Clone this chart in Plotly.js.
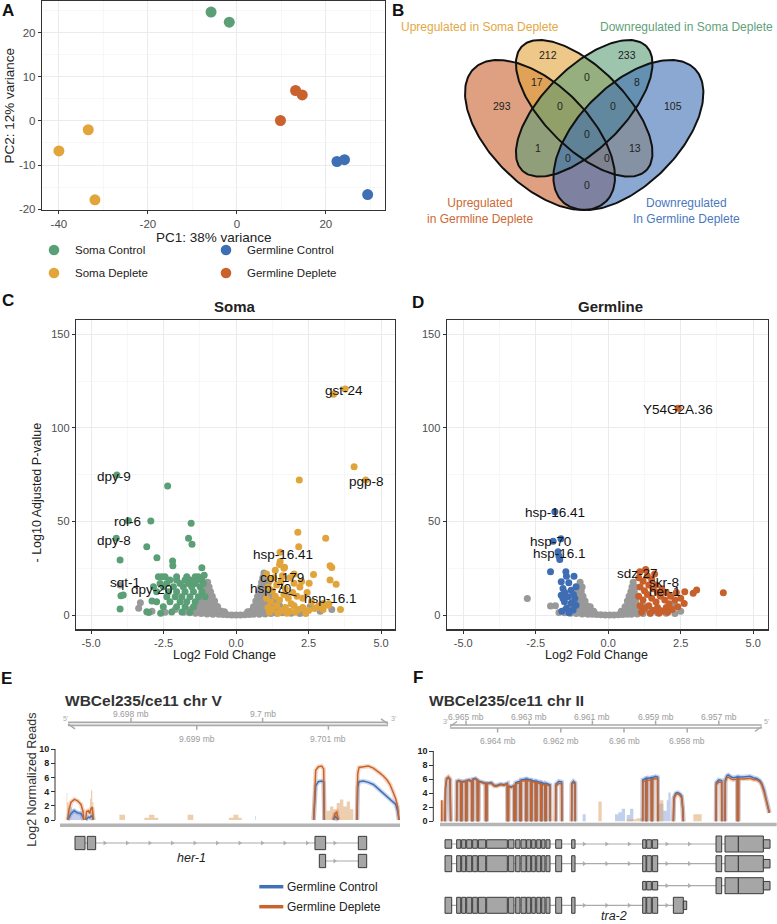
<!DOCTYPE html>
<html><head><meta charset="utf-8">
<script src="https://cdn.plot.ly/plotly-3.0.1.min.js"></script>
<style>html,body{margin:0;padding:0;background:#fff}#chart{width:777px;height:924px}</style>
</head><body><div id="chart"></div>
<script>
const W=777,H=924;
const FONT='Liberation Sans, Arial, Helvetica, sans-serif';
const PX=p=>p/W, PY=p=>1-p/H;

// ===== Panel A: PCA =====
const pcaGroups=['Soma Control','Germline Control','Soma Deplete','Germline Deplete'];
const pcaColors=['#5b9f77','#3e6fb5','#e2a53a','#c9622c'];
const somaControlPC1=[-5.8,-1.7], somaControlPC2=[24.7,22.4];
const somaDepletePC1=[-33.4,-40.0,-31.9], somaDepletePC2=[-2.0,-6.8,-17.9];
const germControlPC1=[22.5,24.2,29.4], germControlPC2=[-9.2,-8.8,-16.7];
const germDepletePC1=[13.2,14.7,9.8], germDepletePC2=[6.9,5.9,0.1];

// ===== Panel B: Venn =====
const vennSets=['Upregulated<br>in Germline Deplete','Upregulated in Soma Deplete','Downregulated in Soma Deplete','Downregulated<br>In Germline Deplete'];
const vennSetColors=['#c8602b','#e1a43a','#5c9e76','#3d6eb5'];
const vennCounts=[293,212,233,105,17,0,8,0,0,0,1,13,0,0,0];

// ===== Panel C: Soma volcano =====
const somaGreyLFC=[-1.8,-1.6,-1.4,-1.2,-1.0,-0.8,-0.6,-0.45,-0.3,-0.15,0.0,0.15,0.3,0.45,0.6,0.8,1.0,1.2,1.4,1.6,1.9,2.2,
 -1.6,-1.4,-1.2,-1.0,-0.82,-0.66,-0.52,-0.4,0.4,0.52,0.66,0.82,1.0,1.2,1.4,1.7,2.1,
 -1.4,-1.22,-1.06,-0.92,-0.78,-0.64,0.6,0.74,0.88,1.02,1.16,1.3,1.5,
 -1.28,-1.13,-0.99,-0.86,-0.74,0.68,0.82,0.96,1.1,1.24,1.38,
 -1.2,-1.06,-0.93,-0.82,0.74,0.88,1.01,1.15,1.29,
 -1.12,-0.99,-0.88,0.8,0.93,1.06,1.2,
 -1.04,-0.93,0.85,0.97,1.1,
 -0.98,0.88,1.0,1.12,
 0.92,1.04,
 0.96,
 -3.3,-3.36,-4.0,-2.9,-2.45,-2.1,2.14,2.55,2.9,3.3,2.4];
const somaGreyP=[1.5,1.2,1.0,0.8,0.6,0.5,0.4,0.3,0.2,0.1,0.0,0.1,0.2,0.3,0.4,0.5,0.6,0.8,1.0,1.2,1.0,0.8,
 2.8,2.6,2.5,2.5,2.5,2.4,2.2,1.8,1.8,2.2,2.4,2.5,2.5,2.6,2.7,2.8,2.5,
 5,5,5,5,5,4.6,4.4,5,5,5,5,5,5,
 7.5,7.5,7.5,7.5,7.5,7.5,7.5,7.5,7.5,7.5,7.5,
 10,10,10,10,10,10,10,10,10,
 12.5,12.5,12.5,12.5,12.5,12.5,12.5,
 15,15,15,15,15,
 17.5,17.5,17.5,17.5,
 20,20,
 22.5,
 6.6,3.6,16.0,2.0,1.5,3.0,2.7,4.4,2.0,3.0,1.0];
const somaDownLFC=[-4.11,-2.36,-3.71,-2.94,-1.55,-1.64,-1.52,-4.13,-3.08,-4.0,-2.73,-2.19,-2.18,-1.18,-1.10,-3.89,-3.97,-4.0,-3.01,-3.08,-2.6,-2.9,
 -2.68,-2.56,-2.45,-2.05,-1.70,-1.41,-1.30,
 -2.28,-2.05,-1.76,-1.59,-1.36,-1.18,
 -2.62,-2.39,-1.93,-1.64,-1.41,-1.13,
 -2.85,-2.51,-2.16,-1.82,-1.53,-1.24,
 -2.74,-2.33,-2.05,-1.76,-1.47,-1.18,
 -2.39,-2.10,-1.87,-1.59,-1.30,-1.07,
 -2.74,-2.28,-1.93,-1.70,-1.41,
 -2.51,-2.05,-1.76,-1.47,
 -2.22,-1.87,-1.59];
const somaDownP=[74.8,68.9,50.4,50.2,49,41,37.8,41,36.5,29.4,30.6,28.9,26.4,25.3,21.3,10.7,10.3,3.2,1.4,1.8,1.0,7.5,
 20.5,20.5,20.5,20.5,20.5,20.5,20.5,
 18.7,18.7,18.7,18.7,18.7,18.7,
 16.9,16.9,16.9,16.9,16.9,16.9,
 15.1,15.1,15.1,15.1,15.1,15.1,
 12.4,12.4,12.4,12.4,12.4,12.4,
 9.8,9.8,9.8,9.8,9.8,9.8,
 7.1,7.1,7.1,7.1,7.1,
 4.4,4.4,4.4,4.4,
 1.7,1.7,1.7];
const somaUpLFC=[3.36,3.76,4.07,4.47,2.18,2.13,3.09,2.16,1.52,1.52,1.67,3.24,3.3,2.67,3.24,3.45,2.26,2.52,3.01,3.18,2.93,2.8,3.6,
 1.05,1.2,1.35,1.5,1.65,1.1,1.25,1.4,1.55,1.7,1.85,2.0,2.2,1.05,1.2,1.35,1.5,1.65,1.8,1.95,2.1,2.3,2.45,1.1,1.25,1.4,1.55,1.7,1.85,2.0,2.15,2.3,2.5,2.7,2.85,3.0,1.15,1.45,1.75,2.05,2.4,1.3,1.6,2.0,1.9,2.6,3.2];
const somaUpP=[118,120.7,79.2,72.1,72.1,44.3,41,36.5,33.6,28.6,25.6,26.3,25.4,21.7,18.7,16.4,17.9,17.0,6.2,5.3,4.5,4.1,3.0,
 22,19,24,27,25,15,13,16,18,14,20,17,15,9,7,10,8,11,9,12,10,9,12,4,3,5,2.5,4,2,5,3,4,2.5,3.5,5,3,1.5,1,1,1.5,1,20,21,22,6,7,6];

// ===== Panel D: Germline volcano =====
const germGreyLFC=[-1.7,-1.5,-1.3,-1.1,-0.9,-0.7,-0.55,-0.4,-0.25,-0.1,0.05,0.2,0.35,0.5,0.65,0.8,1.0,1.2,1.45,1.7,2.0,2.3,
 -1.5,-1.3,-1.12,-0.95,-0.8,-0.65,-0.5,0.45,0.6,0.75,0.9,1.05,1.25,1.5,1.8,
 -1.3,-1.15,-1.0,-0.86,-0.72,-0.62,0.58,0.72,0.86,1.0,1.2,
 -1.2,-1.06,-0.93,-0.8,0.66,0.8,0.94,
 -1.12,-0.99,-0.87,0.72,0.86,0.98,
 -1.05,-0.93,0.78,0.9,
 -1.0,-0.9,0.82,0.94,
 -0.97,0.86,
 -2.79,-1.99,-1.82,2.3,2.5];
const germGreyP=[1.4,1.2,1.0,0.8,0.6,0.5,0.4,0.3,0.2,0.1,0.0,0.1,0.2,0.3,0.4,0.5,0.6,0.8,1.0,1.2,1.0,0.8,
 2.6,2.5,2.5,2.5,2.4,2.2,2.0,2.0,2.2,2.4,2.5,2.5,2.6,2.7,2.5,
 5,5,5,5,4.8,4.5,4.5,4.8,5,5,5,
 7.5,7.5,7.5,7.5,7.5,7.5,7.5,
 10,10,10,10,10,10,
 12.5,12.5,12.5,12.5,
 15,15,15,15,
 17.5,17.5,
 8.9,4.8,5.0,5.0,2.0];
const germDownLFC=[-1.84,-1.63,-1.90,-1.73,-1.70,-1.67,-1.99,-1.46,-1.44,-1.18,-1.62,-1.36,-1.56,-1.28,-1.11,-1.62,-1.39,-1.15,-1.51,-1.28,-1.11,-1.44,-1.21,-1.56,-1.5,-1.35,-1.6,-1.2];
const germDownP=[55.2,40.8,39.4,33.8,31.5,29.7,23.1,23.1,20.8,20.8,17.8,17.2,14.2,13.3,15.1,10.6,9.8,8.9,7.1,6.3,5.3,3.6,2.7,8.9,12,1.2,2,11];
const germUpLFC=[2.41,1.29,1.09,3.97,3.05,2.93,2.64,2.62,
 1.05,1.2,1.35,1.5,1.65,1.1,1.25,1.4,1.55,1.7,1.85,2.0,2.15,1.05,1.2,1.35,1.5,1.65,1.8,1.95,2.1,2.3,1.1,1.25,1.4,1.55,1.7,1.85,2.0,2.2,2.4,1.15,1.45,1.75,2.05,1.6,1.3,2.5,2.35];
const germUpP=[110.4,24.4,23.1,11.9,13.4,11.6,12.5,6.2,
 20,18,21,19,16,15,13,16,14,12,14,12,10,10,8,11,9,7,10,8,6,8,5,3.5,5,2.5,4,2,4,3,4.5,1.5,1,1,1.5,22,24,9,12];

const somaLabels=['gst-24','pgp-8','dpy-9','rol-6','dpy-8','hsp-16.41','col-179','hsp-70','hsp-16.1','sqt-1','dpy-20'];
const germLabels=['Y54G2A.36','hsp-16.41','hsp-70','hsp-16.1','sdz-27','skr-8','her-1'];
const volcTicks=[-5,-2.5,0,2.5,5], volcTickText=['-5.0','-2.5','0.0','2.5','5.0'];

// ===== Panel E: her-1 coverage (kb on chr V) =====
const eCovPos=[9697.038,9697.058,9697.088,9697.139,9697.189,9697.240,9697.271,9697.281,null,
 9697.311,9697.326,9697.352,9697.372,9697.387,9697.412,9697.428,null,
 9700.776,9700.791,9700.807,9700.847,9700.898,9700.928,9700.938,null,
 9701.075,9701.100,9701.126,9701.151,null,
 9701.435,9701.445,9701.465,9701.531,9701.607,9701.683,9701.734,9701.784,9701.835,9701.886,9701.936,9701.987,9702.023,9702.053,9702.073];
const eCovDeplete=[0,1.5,2.5,2.9,2.7,2.2,1.2,0,null,
 0,1.2,1.3,0.9,1.5,1.8,0,null,
 0,5.0,7.0,7.5,7.6,7.2,0,null,
 0,0.9,1.1,0,null,
 0,6.5,7.4,7.5,7.6,7.3,7.0,6.6,6.2,5.7,5.0,3.9,3.0,1.8,0];
const eCovControl=[0,0.3,0.9,1.3,1.0,0.9,0.4,0,null,
 0,0.2,0.4,0.3,0.5,0.6,0,null,
 0,3.0,4.8,5.4,5.5,5.3,0,null,
 0,0.5,0.3,0,null,
 0,4.6,5.4,5.5,5.3,5.0,4.6,4.2,3.8,3.3,3.0,2.6,2.2,1.2,0];
const eBandPos=[9697.000,9697.022,9697.032,9697.050,9697.377,9697.392,9697.412,9697.428,9697.823,9697.909,9698.203,9698.274,9698.355,9698.415,9698.861,9698.947,9699.489,9699.555,9699.631,9699.682,9700.974,9701.025,9701.075,9701.126,9701.176,9701.227,9701.278,9701.328,9701.379];
const eBandDeplete=[0,3.8,2.5,0,3.0,4.2,2.5,0,0.75,0,0.3,0.75,0.3,0,0.75,0,0.3,0.75,0.3,0,1.3,1.9,1.5,2.4,2.9,1.9,2.6,1.5,0];
const eBandCtrlPos=[9697.040,9697.050,9697.100,9697.150,9697.250,9699.885,9699.895,9701.075,9701.126,9701.151];
const eBandControl=[0,1.8,1.5,1.2,0,0.6,0,0.9,1.3,0];
const her1Tx1Start=[9697.149,9697.336,9700.796,9701.455], her1Tx1End=[9697.301,9697.463,9700.958,9701.582];
const her1Tx2Start=[9700.862,9701.455], her1Tx2End=[9700.958,9701.582];
const eAxisTicks=[9698,9699,9700,9701], eAxisLabels=['9.698 mb','9.699 mb','9.7 mb','9.701 mb'];

// ===== Panel F: tra-2 coverage (kb on chr II) =====
const fCovPos=[6965.770,6965.765,6965.760,null,
 6965.664,6965.650,6965.612,6965.559,6965.506,6965.485,null,
 6965.295,6965.285,6965.230,6965.168,6965.160,null,
 6965.137,6965.130,6965.070,6965.010,6965.005,null,
 6964.979,6964.972,6964.900,6964.820,6964.815,null,
 6964.789,6964.782,6964.700,6964.641,6964.636,null,
 6964.609,6964.602,6964.500,6964.377,6964.372,null,
 6964.346,6964.340,6964.200,6964.100,6964.029,6963.900,6963.800,6963.692,6963.687,null,
 6963.660,6963.655,6963.560,6963.481,6963.476,null,
 6963.428,6963.423,6963.291,6963.286,null,
 6963.259,6963.254,6963.101,6963.096,null,
 6963.080,6963.075,6962.953,6962.948,null,
 6962.922,6962.917,6962.806,6962.801,null,
 6962.763,6962.758,6962.637,6962.632,null,
 6962.605,6962.600,6962.500,6962.495,null,
 6962.468,6962.463,6962.342,6962.337,null,
 6962.162,6962.155,6962.060,6961.972,6961.967,null,
 6961.656,6961.650,6961.600,6961.550,6961.545,null,
 6959.409,6959.404,6959.303,6959.298,null,
 6959.282,6959.277,6959.135,6959.130,null,
 6959.103,6959.098,6959.000,6958.934,6958.929,null,
 6958.438,6958.420,6958.360,6958.300,6958.228,6958.175,6958.143,6958.122,null,
 6957.088,6957.080,6957.000,6956.909,6956.904,null,
 6956.803,6956.795,6956.740,6956.698,6956.600,6956.540,6956.413,6956.410,null,
 6956.381,6956.376,6956.223,6956.100,6956.012,6955.900,6955.801,6955.700,6955.643,6955.570,6955.500,6955.440,6955.400];
const fCovDeplete=[0,3.0,0,null,
 0,4.8,6.1,6.3,6.0,0,null,
 0,5.6,5.7,5.6,0,null,
 0,5.5,5.6,5.6,0,null,
 0,5.7,5.8,5.6,0,null,
 0,5.9,6.0,5.8,0,null,
 0,5.6,5.5,5.3,0,null,
 0,5.3,5.4,5.0,5.0,5.2,5.1,5.3,0,null,
 0,4.9,4.8,5.0,0,null,
 0,5.3,5.5,0,null,
 0,5.7,5.8,0,null,
 0,5.8,5.7,0,null,
 0,5.6,5.5,0,null,
 0,5.5,5.3,0,null,
 0,5.3,5.1,0,null,
 0,5.2,5.0,0,null,
 0,5.0,5.4,5.3,0,null,
 0,5.2,5.5,5.3,0,null,
 0,5.6,5.8,0,null,
 0,5.8,5.9,0,null,
 0,5.9,6.1,6.0,0,null,
 0,3.2,3.8,3.9,3.7,3.3,1.8,0,null,
 0,5.2,5.6,5.5,0,null,
 0,5.6,6.2,6.3,6.0,5.9,6.0,0,null,
 0,6.0,6.0,6.1,6.1,5.9,5.9,5.6,5.2,4.2,3.0,1.8,1.2];
const fCovControl=[0,0,0,null,
 0,4.6,6.0,6.2,5.9,0,null,
 0,5.7,5.8,5.7,0,null,
 0,5.6,5.7,5.7,0,null,
 0,5.8,5.9,5.7,0,null,
 0,6.0,6.1,5.9,0,null,
 0,5.7,5.6,5.4,0,null,
 0,5.4,5.5,5.1,5.1,5.3,5.2,5.4,0,null,
 0,5.0,4.9,5.1,0,null,
 0,5.5,5.7,0,null,
 0,5.9,6.0,0,null,
 0,6.0,5.9,0,null,
 0,5.8,5.7,0,null,
 0,5.7,5.5,0,null,
 0,5.5,5.3,0,null,
 0,5.4,5.2,0,null,
 0,5.3,5.7,5.6,0,null,
 0,5.4,5.7,5.5,0,null,
 0,5.9,6.1,0,null,
 0,6.1,6.2,0,null,
 0,6.2,6.4,6.3,0,null,
 0,3.4,4.0,4.1,3.9,3.6,2.0,0,null,
 0,5.5,5.9,5.8,0,null,
 0,5.9,6.5,6.6,6.3,6.2,6.3,0,null,
 0,6.3,6.3,6.4,6.4,6.2,6.1,5.8,5.4,4.5,3.3,2.0,1.2];
const fBandPos=[6965.780,6965.775,6965.760,6960.812,6960.706,6959.915,6959.810,6959.704,6959.599,6959.440,6958.934,6958.860,6958.755,6957.805,6957.700,6957.542];
const fBandDeplete=[0,3.0,0,2.8,0,0.3,0.3,0.3,0.45,0,2.5,3.0,0,1.0,1.0,0];
const fBandCtrlPos=[6961.320,6961.308,6961.213,6960.284,6960.179,6960.073,6959.968,6959.915,6959.810,6959.704,6958.860,6958.755,6958.649,6958.597,6958.523];
const fBandControl=[0,1.0,0,1.0,1.3,1.8,0,0.9,1.8,0,2.5,1.5,3.0,4.1,0];
const tra2CoreStart=[6965.664,6965.295,6965.137,6964.979,6964.789,6964.609,6964.346,6963.660,6963.428,6963.259,6963.080,6962.922,6962.763,6962.605,6962.468,6962.162,6961.656];
const tra2CoreEnd=[6965.453,6965.168,6965.010,6964.820,6964.641,6964.377,6963.692,6963.481,6963.291,6963.101,6962.953,6962.806,6962.637,6962.500,6962.342,6961.972,6961.550];
const tra2MidStart=[6959.409,6959.282,6959.103], tra2MidEnd=[6959.303,6959.135,6958.934];
const tra2TailStart=[6957.088,6956.803,6956.381,6955.590], tra2TailEnd=[6956.909,6956.381,6955.590,6955.379];
const tra2AltStart=[6958.438,6958.122], tra2AltEnd=[6958.122,6958.016];
const fAxisTicks=[6965,6964,6963,6962,6961,6960,6959,6958,6957];
const fAxisLabels=['6.965 mb','6.964 mb','6.963 mb','6.962 mb','6.961 mb','6.96 mb','6.959 mb','6.958 mb','6.957 mb'];

// ===================== build =====================
const traces=[], shapes=[], ann=[];
function txt(text,x,y,o){const a={text:text,x:PX(x),y:PY(y),xref:'paper',yref:'paper',showarrow:false,xanchor:'center',yanchor:'middle',font:{family:FONT,size:12,color:'#222'}};if(o){for(const k in o){if(k==='font')Object.assign(a.font,o.font);else a[k]=o[k];}}ann.push(a);}
function pline(x0,y0,x1,y1,color,width){shapes.push({type:'line',xref:'paper',yref:'paper',x0:PX(x0),y0:PY(y0),x1:PX(x1),y1:PY(y1),line:{color:color,width:width}});}

// --- A
[[somaControlPC1,somaControlPC2],[germControlPC1,germControlPC2],[somaDepletePC1,somaDepletePC2],[germDepletePC1,germDepletePC2]].forEach((d,i)=>{
  traces.push({type:'scatter',mode:'markers',x:d[0],y:d[1],xaxis:'x',yaxis:'y',marker:{size:11,color:pcaColors[i]},hoverinfo:'skip'});
});
const legPos=[[54,250],[226,250],[54,273],[226,273]];
pcaGroups.forEach((g,i)=>{const p=legPos[i];
  shapes.push({type:'circle',xref:'paper',yref:'paper',x0:PX(p[0]-5.3),x1:PX(p[0]+5.3),y0:PY(p[1]+5.3),y1:PY(p[1]-5.3),fillcolor:pcaColors[i],line:{width:0}});
  txt(g,p[0]+19,p[1],{xanchor:'left',font:{size:11.5,color:'#222'}});
});
txt('PC1: 38% variance',213.5,237,{font:{size:13.5}});
txt('PC2: 12% variance',9,105.5,{textangle:-90,font:{size:13.5}});

// --- B Venn
const vennEll=[{cx:540,cy:135,a:93.7,b:49.7,ang:45},{cx:584.2,cy:108.3,a:87.8,b:40.2,ang:45},{cx:584.2,cy:108.3,a:87.8,b:40.2,ang:-45},{cx:628.4,cy:135,a:93.7,b:49.7,ang:-45}];
function ell(e){const xs=[],ys=[],th=e.ang*Math.PI/180;for(let i=0;i<=200;i++){const t=i/200*2*Math.PI;xs.push(e.cx+e.a*Math.cos(t)*Math.cos(th)-e.b*Math.sin(t)*Math.sin(th));ys.push(e.cy+e.a*Math.cos(t)*Math.sin(th)+e.b*Math.sin(t)*Math.cos(th));}return [xs,ys];}
function rgba(hex,a){const n=parseInt(hex.slice(1),16);return 'rgba('+(n>>16)+','+((n>>8)&255)+','+(n&255)+','+a+')';}
vennEll.forEach((e,i)=>{const p=ell(e);traces.push({type:'scatter',mode:'lines',x:p[0],y:p[1],xaxis:'x2',yaxis:'y2',fill:'toself',fillcolor:rgba(vennSetColors[i],0.6),line:{width:0},hoverinfo:'skip'});});
vennEll.forEach((e,i)=>{const p=ell(e);traces.push({type:'scatter',mode:'lines',x:p[0],y:p[1],xaxis:'x2',yaxis:'y2',line:{width:2,color:'#111'},hoverinfo:'skip'});});
const vennLabelPos=[[501.7,105.7],[548.3,55],[626.7,55],[673.3,105.7],[536.7,81.7],[587.3,76.7],[636.7,81.7],[560,105.7],[613.3,105.7],[586.7,134.3],[538.3,148.3],[635,148.3],[567.7,158.3],[606.7,158.3],[586.7,185]];
vennCounts.forEach((c,i)=>txt(String(c),vennLabelPos[i][0],vennLabelPos[i][1],{font:{size:10.5,color:'#222'}}));
txt(vennSets[1],480,26.7,{font:{size:12,color:'#e3a846'}});
txt(vennSets[2],686.7,26.7,{font:{size:12,color:'#5f9f7a'}});
txt(vennSets[0],480,211,{font:{size:12,color:'#cc6a35'}});
txt(vennSets[3],686,211,{font:{size:12,color:'#4a78bd'}});

// --- C / D volcano
function pts(x,y,xa,ya,c){traces.push({type:'scatter',mode:'markers',x:x,y:y,xaxis:xa,yaxis:ya,marker:{size:7,color:c},hoverinfo:'skip'});}
pts(somaGreyLFC,somaGreyP,'x3','y3','#999999');
pts(somaDownLFC,somaDownP,'x3','y3','#5b9f77');
pts(somaUpLFC,somaUpP,'x3','y3','#e0a43a');
pts(germGreyLFC,germGreyP,'x4','y4','#999999');
pts(germDownLFC,germDownP,'x4','y4','#3e6db3');
pts(germUpLFC,germUpP,'x4','y4','#c8602b');
const somaLabelPos=[[344,390],[366.7,481.7],[114.3,476.7],[127.3,521.7],[114.3,540.7],[283.3,554],[281.7,577.3],[270.7,588.3],[330,598.3],[125,582.7],[151.7,589.3]];
somaLabels.forEach((l,i)=>txt(l,somaLabelPos[i][0],somaLabelPos[i][1],{font:{size:13.5,color:'#111'}}));
const germLabelPos=[[677.7,409],[555,512.7],[550.7,541.7],[559.3,553.3],[637.3,573.3],[664.3,582.7],[665,591.7]];
germLabels.forEach((l,i)=>txt(l,germLabelPos[i][0],germLabelPos[i][1],{font:{size:13.5,color:'#111'}}));
pline(278.3,591.7,296.7,596,'#111',1);
pline(281.7,583.5,281.7,589,'#111',1);
txt('<b>Soma</b>',235,306.7,{font:{size:15,color:'#222'}});
txt('<b>Germline</b>',610,306.7,{font:{size:15,color:'#222'}});
txt('Log2 Fold Change',225,655,{font:{size:12.5}});
txt('Log2 Fold Change',596.7,655,{font:{size:12.5}});
txt('- Log10 Adjusted P-value',36.5,493,{textangle:-90,font:{size:12.5}});

// --- E / F coverage helpers
const eToPx=kb=>131+(kb-9698)*65.8, ePxToKb=p=>9698+(p-131)/65.8;
const fToPx=kb=>466+(6965-kb)*31.6, fPxToKb=p=>6965-(p-466)/31.6;
const BLUE='#4070b8', ORANGE='#c8632b';
function covTraces(xa,ya,bandPosC,bandC,bandPosD,bandD,pos,ctrl,depl){
  traces.push({type:'scatter',mode:'lines',x:bandPosC,y:bandC,xaxis:xa,yaxis:ya,line:{shape:'hv',width:0},fill:'tozeroy',fillcolor:'rgba(120,150,215,0.45)',hoverinfo:'skip'});
  traces.push({type:'scatter',mode:'lines',x:bandPosD,y:bandD,xaxis:xa,yaxis:ya,line:{shape:'hv',width:0},fill:'tozeroy',fillcolor:'rgba(222,165,110,0.55)',hoverinfo:'skip'});
  traces.push({type:'scatter',mode:'lines',x:pos,y:ctrl,xaxis:xa,yaxis:ya,connectgaps:false,line:{width:4.5,color:'rgba(100,140,210,0.35)'},hoverinfo:'skip'});
  traces.push({type:'scatter',mode:'lines',x:pos,y:depl,xaxis:xa,yaxis:ya,connectgaps:false,line:{width:4.5,color:'rgba(220,150,100,0.35)'},hoverinfo:'skip'});
  traces.push({type:'scatter',mode:'lines',x:pos,y:ctrl,xaxis:xa,yaxis:ya,connectgaps:false,line:{width:1.5,color:BLUE},hoverinfo:'skip'});
  traces.push({type:'scatter',mode:'lines',x:pos,y:depl,xaxis:xa,yaxis:ya,connectgaps:false,line:{width:1.5,color:ORANGE},hoverinfo:'skip'});
}
covTraces('x5','y5',eBandCtrlPos,eBandControl,eBandPos,eBandDeplete,eCovPos,eCovControl,eCovDeplete);
covTraces('x6','y6',fBandCtrlPos,fBandControl,fBandPos,fBandDeplete,fCovPos,fCovControl,fCovDeplete);

// baselines + y axis lines
pline(60,825.2,400,825.2,'#b5b5b5',3.5);
pline(440,824.5,776.7,824.5,'#b5b5b5',3.5);
pline(55,749,55,820,'#333',1);
pline(433.3,751,433.3,821.3,'#333',1);

// gene models
function transcript(xa,ya,starts,ends,thin,cy,hF,hT,toPx,toKb){
  const order=starts.map((s,i)=>i).sort((a,b)=>toPx(starts[a])-toPx(starts[b]));
  const lo=Math.min(...starts.map(toPx),...ends.map(toPx)), hi=Math.max(...starts.map(toPx),...ends.map(toPx));
  shapes.push({type:'line',xref:'paper',yref:ya,x0:PX(lo),x1:PX(hi),y0:cy,y1:cy,line:{color:'#aaaaaa',width:1.2}});
  const ax=[],ay=[];
  for(let k=0;k<order.length-1;k++){const i=order[k],j=order[k+1];const g0=Math.max(toPx(starts[i]),toPx(ends[i])),g1=Math.min(toPx(starts[j]),toPx(ends[j]));
    if(g1-g0>14){for(let p=g0+9;p<g1-6;p+=22.5){ax.push(toKb(p));ay.push(cy);}}}
  if(ax.length)traces.push({type:'scatter',mode:'markers',x:ax,y:ay,xaxis:xa,yaxis:ya,marker:{symbol:'triangle-right',size:4.5,color:'#b0b0b0'},hoverinfo:'skip'});
  starts.forEach((s,i)=>{const h=thin[i]?hT:hF;shapes.push({type:'rect',xref:xa,yref:ya,x0:s,x1:ends[i],y0:cy-h/2,y1:cy+h/2,fillcolor:'#a6a6a6',line:{color:'#3a3a3a',width:1}});});
}
transcript('x5','y7',her1Tx1Start,her1Tx1End,[0,0,0,0],843,13.3,13.3,eToPx,ePxToKb);
transcript('x5','y7',her1Tx2Start,her1Tx2End,[1,0],861,13.3,13.3,eToPx,ePxToKb);
const coreThin=tra2CoreStart.map(()=>1), coreFull=tra2CoreStart.map(()=>0);
transcript('x6','y8',tra2CoreStart.concat(tra2MidStart,tra2TailStart),tra2CoreEnd.concat(tra2MidEnd,tra2TailEnd),coreThin.concat([1,1,1],[0,0,0,1]),844,16,8.5,fToPx,fPxToKb);
transcript('x6','y8',tra2CoreStart.concat(tra2MidStart,tra2TailStart),tra2CoreEnd.concat(tra2MidEnd,tra2TailEnd),coreFull.concat([0,0,0],[0,0,0,1]),863.7,16,8.5,fToPx,fPxToKb);
transcript('x6','y8',tra2MidStart.concat(tra2TailStart),tra2MidEnd.concat(tra2TailEnd),[1,1,1,0,0,0,1],885.7,16,8.5,fToPx,fPxToKb);
transcript('x6','y8',tra2CoreStart.concat(tra2MidStart,tra2AltStart),tra2CoreEnd.concat(tra2MidEnd,tra2AltEnd),coreFull.concat([0,0,0],[0,1]),905.3,16,8.5,fToPx,fPxToKb);
txt('<i>her-1</i>',191.7,857.7,{font:{size:12.5,color:'#222'}});
txt('<i>tra-2</i>',614,916,{font:{size:12.5,color:'#222'}});

// genome axes
const GC='#a9a9a9';
function gAxis(xa,ticks,labels,yTop,yBot,labTop,labBot,firstTop){
  ticks.forEach((t,i)=>{const top=(i%2===0)===firstTop;
    shapes.push({type:'line',xref:xa,yref:'paper',x0:t,x1:t,y0:PY(top?yTop-4.5:yBot),y1:PY(top?yTop:yBot+4.5),line:{color:GC,width:1.5}});
    ann.push({text:labels[i],x:t,y:PY(top?labTop:labBot),xref:xa,yref:'paper',showarrow:false,xanchor:'center',yanchor:'middle',font:{family:FONT,size:8.5,color:'#9a9a9a'}});
  });
}
// E axis line
pline(68,722.3,388,722.3,GC,1.7); pline(68,725.3,388,725.3,GC,1.7);
pline(388,723.8,381,718.8,GC,1.5); pline(68,723.8,75,728.8,GC,1.5);
gAxis('x5',eAxisTicks,eAxisLabels,722.3,725.3,714,738.7,true);
txt("5'",65,718.5,{font:{size:7,color:'#aaa'}}); txt("3'",393,718.5,{font:{size:7,color:'#aaa'}});
// F axis line
pline(450,725,761.7,725,GC,1.7); pline(450,728,761.7,728,GC,1.7);
pline(450,726.5,457,721.5,GC,1.5); pline(761.7,726.5,755,731.5,GC,1.5);
gAxis('x6',fAxisTicks,fAxisLabels,725,728,716.7,740.7,true);
txt("3'",445,721,{font:{size:7,color:'#aaa'}}); txt("5'",766,721,{font:{size:7,color:'#aaa'}});

txt('<b>WBCel235/ce11 chr V</b>',143.5,700,{font:{size:15.5,color:'#333'}});
txt('<b>WBCel235/ce11 chr II</b>',506,700,{font:{size:15.5,color:'#333'}});
txt('Log2 Normalized Reads',31.7,780,{textangle:-90,font:{size:12.5,color:'#333'}});
// E legend
pline(259.3,886.7,283.3,886.7,BLUE,3.5); pline(259.3,906.7,283.3,906.7,ORANGE,3.5);
txt('Germline Control',285,886.7,{xanchor:'left',font:{size:12,color:'#222'}});
txt('Germline Deplete',285,906.7,{xanchor:'left',font:{size:12,color:'#222'}});

// panel letters
[['A',8,10],['B',398,10],['C',8,300],['D',418,302],['E',6,678],['F',418,677]].forEach(l=>txt('<b>'+l[0]+'</b>',l[1],l[2],{font:{size:17,color:'#111'}}));

// ---------------- axes
const frame={showline:true,mirror:true,linecolor:'#333',linewidth:1.2,ticks:'outside',ticklen:3,tickcolor:'#333',tickwidth:1,showgrid:true,gridcolor:'#ebebeb',gridwidth:1,zeroline:false,tickfont:{family:FONT,size:11.5,color:'#4d4d4d'},fixedrange:true};
function ax(extra){return Object.assign({},frame,extra);}
const minorG=v=>({tickvals:v,showgrid:true,gridcolor:'#f1f1f1',gridwidth:0.6});
const hidden=(d,r)=>({domain:d,range:r,visible:false,fixedrange:true});
const covY=(d,r,pos)=>({domain:d,range:r,anchor:'free',position:pos,showline:false,showgrid:false,zeroline:false,ticks:'outside',ticklen:4,tickcolor:'#333',tickvals:[0,2,4,6,8,10],tickfont:{family:FONT,size:9,color:'#222',weight:'bold'},fixedrange:true});

const layout={width:W,height:H,margin:{l:0,r:0,t:0,b:0},paper_bgcolor:'#fff',plot_bgcolor:'#fff',showlegend:false,font:{family:FONT,color:'#222'},
 xaxis:ax({domain:[PX(42),PX(385)],range:[-43.8,33.3],anchor:'y',tickvals:[-40,-20,0,20],ticktext:['-40','-20','0','20'],minor:minorG([-30,-10,10,30])}),
 yaxis:ax({domain:[PY(210),PY(1)],range:[-20.2,27.2],anchor:'x',tickvals:[-20,-10,0,10,20],ticktext:['-20','-10','0','10','20'],minor:minorG([-15,-5,5,15,25])}),
 xaxis2:Object.assign(hidden([PX(395),1],[395,777]),{anchor:'y2'}),
 yaxis2:Object.assign(hidden([PY(240),1],[240,0]),{anchor:'x2'}),
 xaxis3:ax({domain:[PX(76),PX(395)],range:[-5.52,5.48],anchor:'y3',tickvals:volcTicks,ticktext:volcTickText,minor:minorG([-3.75,-1.25,1.25,3.75]),tickfont:{family:FONT,size:11,color:'#4d4d4d'}}),
 yaxis3:ax({domain:[PY(629.3),PY(320)],range:[-7.6,157.6],anchor:'x3',tickvals:[0,50,100,150],minor:minorG([25,75,125]),tickfont:{family:FONT,size:11,color:'#4d4d4d'}}),
 xaxis4:ax({domain:[PX(446.7),PX(767.7)],range:[-5.57,5.5],anchor:'y4',tickvals:volcTicks,ticktext:volcTickText,minor:minorG([-3.75,-1.25,1.25,3.75]),tickfont:{family:FONT,size:11,color:'#4d4d4d'}}),
 yaxis4:ax({domain:[PY(629.3),PY(320)],range:[-7.6,157.6],anchor:'x4',tickvals:[0,50,100,150],minor:minorG([25,75,125]),tickfont:{family:FONT,size:11,color:'#4d4d4d'}}),
 xaxis5:Object.assign(hidden([PX(60),PX(400)],[ePxToKb(60),ePxToKb(400)]),{anchor:'y5'}),
 yaxis5:covY([PY(828),PY(745)],[(820-828)/7.1,(820-745)/7.1],PX(55)),
 xaxis6:Object.assign(hidden([PX(440),PX(776.7)],[fPxToKb(440),fPxToKb(776.7)]),{anchor:'y6'}),
 yaxis6:covY([PY(829),PY(747)],[(821.3-829)/7.03,(821.3-747)/7.03],PX(433.3)),
 yaxis7:Object.assign(hidden([0,PY(830)],[924,830]),{anchor:'x5'}),
 yaxis8:Object.assign(hidden([0,PY(830)],[924,830]),{anchor:'x6'}),
 shapes:shapes, annotations:ann};
Plotly.newPlot('chart',traces,layout,{staticPlot:true,displayModeBar:false});
</script></body></html>
